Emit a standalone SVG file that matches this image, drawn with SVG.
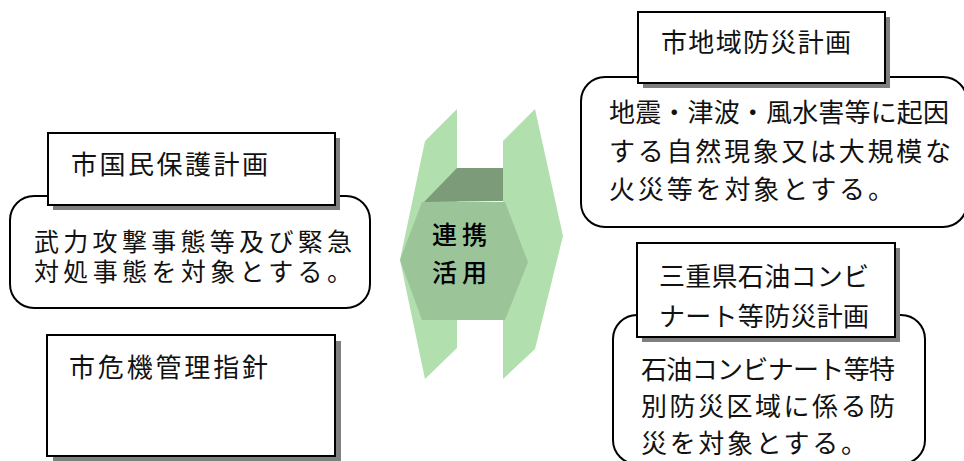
<svg xmlns="http://www.w3.org/2000/svg" width="964" height="461" viewBox="0 0 964 461">
<style>
.t{font-family:"Liberation Sans","Noto Sans CJK JP","Noto Sans CJK SC",sans-serif;font-size:26px;fill:#111;}
.s{font-size:25px;}
.c{font-family:"Liberation Sans","Noto Sans CJK JP","Noto Sans CJK SC",sans-serif;font-size:25px;fill:#000;font-weight:500;}
.box{fill:#fff;stroke:#000;stroke-width:2;}
.sh{fill:#7f7f7f;}
.rbox{fill:#fff;stroke:#000;stroke-width:2;}
.flap{fill:#b2dfae;}
.body{fill:#9cc499;}
.top{fill:#7b9b79;}
</style>
<rect width="964" height="461" fill="#fff"/>
<g id="kokumin">
<rect class="rbox" x="10" y="196" width="360" height="112" rx="24"/>
<rect class="sh" x="53" y="138" width="287" height="72"/>
<rect class="box" x="48" y="133" width="287" height="72"/>
<text class="t" x="71" y="174" textLength="197" lengthAdjust="spacing">市国民保護計画</text>
<text class="t s"><tspan x="34" y="251" textLength="318" lengthAdjust="spacing">武力攻撃事態等及び緊急</tspan><tspan x="34" y="281" textLength="318" lengthAdjust="spacing">対処事態を対象とする。</tspan></text>
</g>
<g id="kiki">
<rect class="sh" x="53" y="341" width="288" height="121"/>
<rect class="box" x="47" y="335" width="288" height="121"/>
<text class="t" x="69" y="377" textLength="199" lengthAdjust="spacing">市危機管理指針</text>
</g>
<g id="renkei">
<polygon class="flap" points="425,141 457,109 457,348 425,379 400,260"/>
<polygon class="flap" points="503,141 535,109 563,236 535,349 503,379"/>
<polygon class="body" points="422,202 505,202 528,262 505,320 422,320 400,260"/>
<polygon class="top" points="424,202 457,168 503,168 503,201"/>
<text class="c"><tspan x="432" y="244" textLength="55" lengthAdjust="spacing">連携</tspan><tspan x="432" y="282" textLength="55" lengthAdjust="spacing">活用</tspan></text>
</g>
<g id="chiiki">
<rect class="rbox" x="581" y="77" width="386" height="150" rx="24"/>
<rect class="sh" x="643" y="17" width="247" height="71"/>
<rect class="box" x="638" y="12" width="247" height="71"/>
<text class="t" x="661" y="52" textLength="190" lengthAdjust="spacing">市地域防災計画</text>
<text class="t"><tspan x="609" y="122" textLength="340" lengthAdjust="spacing">地震・津波・風水害等に起因</tspan><tspan x="609" y="161" textLength="342" lengthAdjust="spacing">する自然現象又は大規模な</tspan><tspan x="609" y="199" textLength="285" lengthAdjust="spacing">火災等を対象とする。</tspan></text>
</g>
<g id="konbinato">
<rect class="rbox" x="613" y="315" width="312" height="149" rx="24"/>
<rect class="sh" x="642" y="248" width="258" height="94"/>
<rect class="box" x="637" y="243" width="258" height="94"/>
<text class="t"><tspan x="659" y="286" textLength="210" lengthAdjust="spacing">三重県石油コンビ</tspan><tspan x="659" y="326" textLength="210" lengthAdjust="spacing">ナート等防災計画</tspan></text>
<text class="t"><tspan x="641" y="379" textLength="254" lengthAdjust="spacing">石油コンビナート等特</tspan><tspan x="641" y="416" textLength="254" lengthAdjust="spacing">別防災区域に係る防</tspan><tspan x="641" y="453" textLength="226" lengthAdjust="spacing">災を対象とする。</tspan></text>
</g>
<g id="connectors"></g>
</svg>
